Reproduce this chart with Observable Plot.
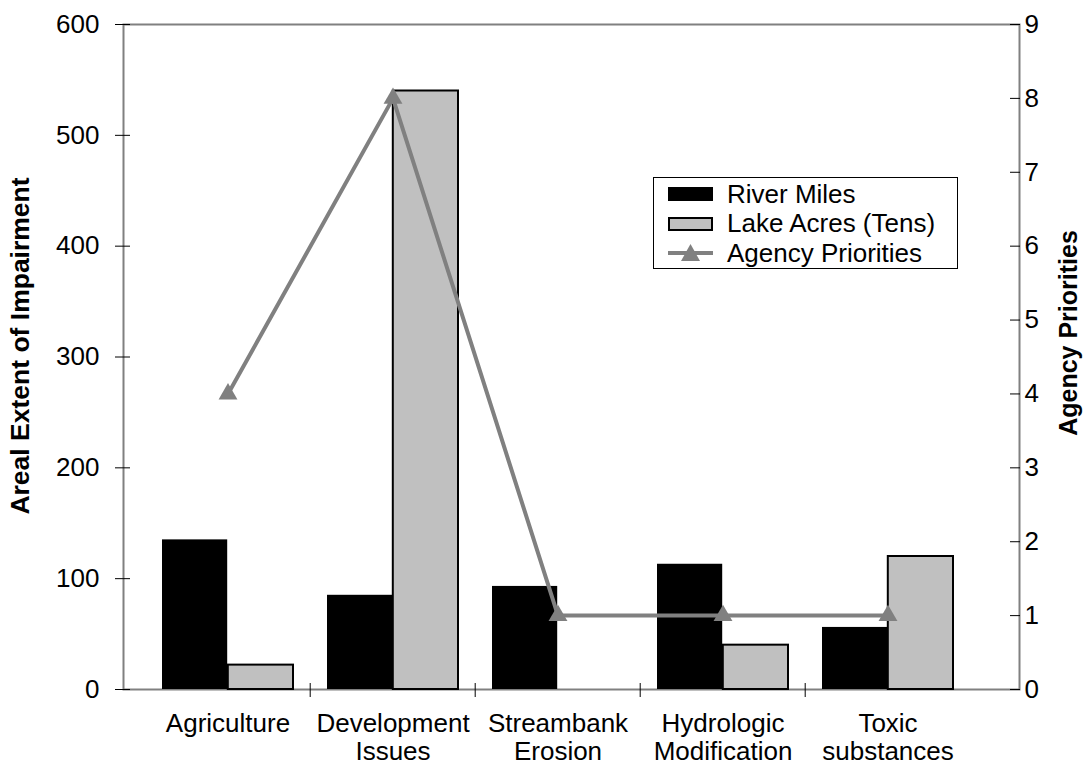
<!DOCTYPE html>
<html>
<head>
<meta charset="utf-8">
<script src="https://cdn.jsdelivr.net/npm/d3@7"></script>
<script src="https://cdn.jsdelivr.net/npm/@observablehq/plot@0.6"></script>
<style>
  html, body { margin: 0; padding: 0; background: #fff; }
  #wrap { position: relative; width: 1088px; height: 766px; font-family: "Liberation Sans", Arial, sans-serif; }
  #legend { position: absolute; left: 653px; top: 177px; width: 305px; height: 92px; border: 1px solid #000; box-sizing: border-box; background: #fff; }
  .row { position: absolute; left: 0; height: 30px; display: flex; align-items: center; font-size: 26px; color: #000; white-space: nowrap; }
  .row svg { margin-left: 14px; margin-right: 14px; }
</style>
</head>
<body>
<div id="wrap">
  <div id="chart"></div>
  <div id="legend"></div>
</div>
<script>
// ---- data ----
const categories = ["Agriculture", "Development\nIssues", "Streambank\nErosion", "Hydrologic\nModification", "Toxic\nsubstances"];
const riverMiles = [135, 85, 93, 113, 56];
const lakeAcresTens = [22, 540, 0, 40, 120];
const agencyPriorities = [4, 8, 1, 1, 1];
const leftTicks = [0, 100, 200, 300, 400, 500, 600];
const rightTicks = [0, 1, 2, 3, 4, 5, 6, 7, 8, 9];
const seriesNames = ["River Miles", "Lake Acres (Tens)", "Agency Priorities"];
const leftTitle = "Areal Extent of Impairment";
const rightTitle = "Agency Priorities";

// ---- layout ----
const W = 1088, H = 766;
const mL = 123, mR = 69, mT = 24, mB = 77;
const xRange = [143, 971];
const bw = (xRange[1] - xRange[0]) / categories.length;
const pad = 17;
const font = "'Liberation Sans', Arial, sans-serif";
const GRAY = "#808080", SILVER = "#c0c0c0";

const rows = categories.map((c, i) => ({category: c, river: riverMiles[i], lake: lakeAcresTens[i], priority: agencyPriorities[i]}));
const prio = d3.scaleLinear().domain([0, 9]).range([0, 600]);

const chart = Plot.plot({
  width: W, height: H,
  marginLeft: mL, marginRight: mR, marginTop: mT, marginBottom: mB,
  style: {fontFamily: font, fontSize: "26px", color: "#000", background: "#fff", overflow: "visible"},
  x: {domain: categories, range: xRange, padding: 0, label: null},
  y: {domain: [0, 600], label: null},
  marks: [
    Plot.frame({stroke: GRAY, strokeWidth: 2}),
    Plot.barY(rows, {x: "category", y: "river", fill: "#000", insetLeft: pad, insetRight: bw / 2}),
    Plot.barY(rows, {filter: d => d.lake > 0, x: "category", y: "lake", fill: SILVER, stroke: "#000", strokeWidth: 2, insetLeft: bw / 2, insetRight: pad}),
    Plot.axisY({anchor: "left", ticks: leftTicks, tickSize: 15, dx: 7, tickPadding: 16, fontSize: 26, label: null, stroke: "#000"}),
    Plot.axisY({anchor: "right", ticks: rightTicks.map(v => prio(v)), tickFormat: d => d3.format("d")(Math.round(prio.invert(d))), tickSize: -10, tickPadding: 15, fontSize: 26, label: null}),
    Plot.axisX({anchor: "bottom", ticks: categories.slice(1), tickFormat: () => "", tickSize: 14, dx: -bw / 2, dy: -6, label: null}),
    Plot.axisX({anchor: "bottom", tickSize: 0, tickPadding: 22, fontSize: 26, lineHeight: 1.1, label: null}),
    Plot.line(rows, {x: "category", y: d => prio(d.priority), stroke: GRAY, strokeWidth: 4}),
    Plot.dot(rows, {x: "category", y: d => prio(d.priority), symbol: "triangle", r: 7, fill: GRAY, stroke: "none"}),
    Plot.text([leftTitle], {frameAnchor: "left", textAnchor: "middle", text: d => d, rotate: -90, dx: -103, dy: -11, fontWeight: "bold", fontSize: 26.5}),
    Plot.text([rightTitle], {frameAnchor: "right", textAnchor: "middle", text: d => d, rotate: -90, dx: 49, dy: -24, fontWeight: "bold", fontSize: 25})
  ]
});
document.getElementById("chart").appendChild(chart);

// ---- legend ----
const legend = document.getElementById("legend");
const swatches = [
  `<svg width="45" height="14"><rect x="0.5" y="0.5" width="44" height="13" fill="#000" stroke="#000"/></svg>`,
  `<svg width="45" height="14"><rect x="1" y="1" width="43" height="12" fill="${SILVER}" stroke="#000" stroke-width="2"/></svg>`,
  `<svg width="45" height="20"><line x1="0" y1="10" x2="45" y2="10" stroke="${GRAY}" stroke-width="4"/><path d="M22.5,1 L32,18 L13,18 Z" fill="${GRAY}"/></svg>`
];
seriesNames.forEach((name, i) => {
  const r = document.createElement("div");
  r.className = "row";
  r.style.top = (1 + i * 29.5) + "px";
  r.innerHTML = swatches[i] + `<span>${name}</span>`;
  legend.appendChild(r);
});
</script>
</body>
</html>
